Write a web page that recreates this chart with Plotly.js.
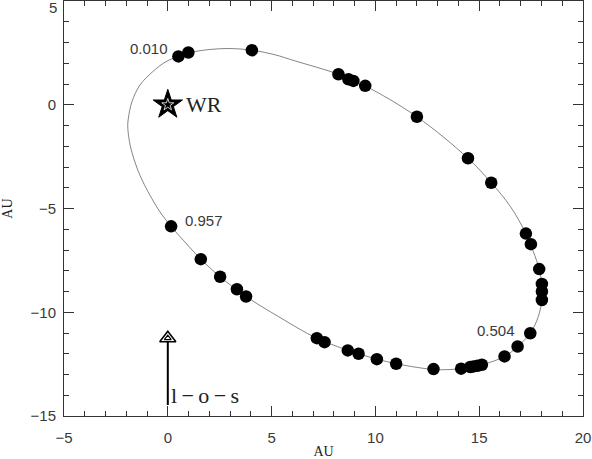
<!DOCTYPE html>
<html><head><meta charset="utf-8">
<script src="https://cdn.plot.ly/plotly-3.0.1.min.js"></script>
<style>html,body{margin:0;padding:0;background:#fff}#chart{width:592px;height:459px}</style>
</head><body><div id="chart"></div>
<script>
// observed positions (AU)
const obsX = [0.51,0.99,4.05,8.22,8.70,8.94,9.51,12.0,14.46,15.58,17.25,17.49,17.89,18.02,18.02,18.02,17.46,16.85,16.22,15.13,14.92,14.73,14.57,14.13,12.8,11.0,10.07,9.19,8.67,7.55,7.18,3.77,3.33,2.52,1.59,0.16];
const obsY = [2.33,2.52,2.63,1.47,1.23,1.15,0.91,-0.58,-2.58,-3.76,-6.21,-6.72,-7.92,-8.64,-9.0,-9.41,-11.01,-11.65,-12.13,-12.53,-12.58,-12.61,-12.64,-12.72,-12.74,-12.48,-12.26,-12.0,-11.84,-11.44,-11.25,-9.24,-8.89,-8.29,-7.44,-5.86];
// orbit curve
const orbitX = [0.51,0.99,1.99,3.0,4.05,5.12,6.14,8.22,9.51,12.0,14.46,15.58,16.5,17.25,17.6,17.89,18.02,18.05,18.02,17.85,17.46,16.85,16.22,15.13,14.13,13.2,12.8,11.0,9.19,7.18,5.4,3.77,2.52,1.59,0.54,0.16,-0.38,-1.13,-1.5,-1.77,-1.9,-1.93,-1.9,-1.73,-1.34,-0.73,-0.1,0.51];
const orbitY = [2.33,2.50,2.66,2.71,2.63,2.42,2.11,1.47,0.91,-0.58,-2.58,-3.76,-4.9,-6.21,-7.06,-7.92,-8.64,-9.0,-9.41,-10.2,-11.01,-11.65,-12.13,-12.53,-12.72,-12.77,-12.76,-12.48,-12.0,-11.25,-10.25,-9.24,-8.29,-7.44,-6.3,-5.86,-5.16,-3.85,-3.0,-2.14,-1.42,-1.0,-0.65,0.14,0.95,1.59,2.07,2.33];
const starX = [0], starY = [0];
const losX = [0, 0], losY = [-14.47, -11.25];
const phaseLabels = ["0.010", "0.957", "0.504"];
const xTicks = [-5, 0, 5, 10, 15, 20];
const yTicks = [-15, -10, -5, 0, 5];

const tickFont = {family: "Liberation Sans, Arial, sans-serif", size: 15, color: "#3a3a3a"};
const serif = "Liberation Serif, Times New Roman, serif";

const traces = [
  {x: orbitX, y: orbitY, mode: "lines", line: {color: "#666", width: 0.8, shape: "spline", smoothing: 1}, hoverinfo: "skip"},
  {x: obsX, y: obsY, mode: "markers", marker: {color: "#000", size: 12.5, symbol: "circle"}},
  {x: starX, y: starY, mode: "markers", marker: {color: "#000", size: 22, symbol: "star", line: {color: "#000", width: 1}}},
  {x: starX, y: starY, mode: "markers", marker: {color: "#fff", size: 9, symbol: "star-open", line: {color: "#fff", width: 0.8}}},
  {x: losX, y: losY, mode: "lines", line: {color: "#000", width: 2}},
  {x: [losX[1]], y: [losY[1]], mode: "markers", marker: {color: "#fff", size: 14, symbol: "triangle-up", line: {color: "#000", width: 1.6}}},
  {x: [losX[1]], y: [losY[1]], mode: "markers", marker: {color: "#000", size: 6, symbol: "triangle-up-open", line: {color: "#000", width: 1.2}}}
];

const axisCommon = {
  showgrid: false, zeroline: false, showline: true, linecolor: "#333", linewidth: 1,
  mirror: "ticks", ticks: "inside", ticklen: 10, tickwidth: 1, tickcolor: "#333",
  tickfont: tickFont,
  minor: {dtick: 1, ticks: "inside", ticklen: 5, tickwidth: 1, tickcolor: "#333"}
};

const layout = {
  width: 592, height: 459,
  margin: {l: 64, r: 9, t: 1, b: 43},
  paper_bgcolor: "#fff", plot_bgcolor: "#fff",
  showlegend: false,
  xaxis: Object.assign({}, axisCommon, {
    range: [-5, 20], tickvals: xTicks, ticklabelstandoff: 8,
    title: {text: "AU", font: {family: serif, size: 14, color: "#222"}, standoff: 2}
  }),
  yaxis: Object.assign({}, axisCommon, {
    range: [-15, 5], tickvals: yTicks,
    ticktext: yTicks.map(v => v === 5 ? "" : String(v).replace("-", "\u2212")),
    ticklabelstandoff: 4,
    title: {text: "AU", font: {family: serif, size: 14, color: "#222"}, standoff: 14}
  }),
  annotations: [
    {xref: "paper", yref: "paper", x: 0, y: 1, xanchor: "right", yanchor: "middle", xshift: -5, yshift: -6, text: "5", showarrow: false, font: tickFont},
    {x: 0.11, y: 2.69, xanchor: "right", yanchor: "middle", text: phaseLabels[0], showarrow: false, font: tickFont},
    {x: 0.72, y: -5.57, xanchor: "left", yanchor: "middle", text: phaseLabels[1], showarrow: false, font: tickFont},
    {x: 14.78, y: -10.88, xanchor: "left", yanchor: "middle", text: phaseLabels[2], showarrow: false, font: tickFont},
    {x: 0.8, y: 0, xanchor: "left", yanchor: "middle", text: "WR", showarrow: false, font: {family: serif, size: 22, color: "#222"}},
    {x: 0.05, y: -14.0, xanchor: "left", yanchor: "middle", text: "l\u2009\u2212\u2009o\u2009\u2212\u2009s", showarrow: false, font: {family: serif, size: 22, color: "#222"}}
  ]
};

Plotly.newPlot("chart", traces, layout, {staticPlot: true, displayModeBar: false});
</script></body></html>
